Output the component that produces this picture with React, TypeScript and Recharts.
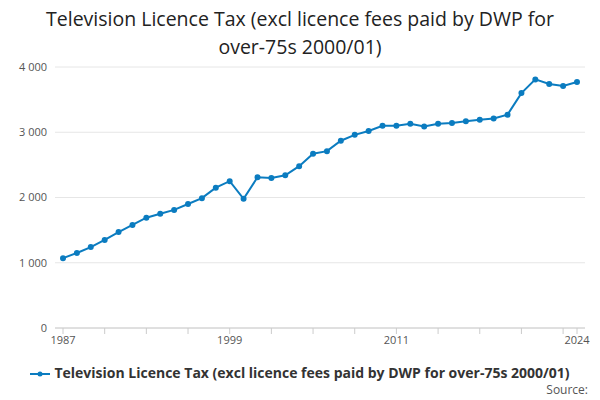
import React from 'react';
import { LineChart, Line, XAxis, YAxis, CartesianGrid } from 'recharts';

const years = Array.from({ length: 38 }, (_, i) => 1987 + i);
const values = [
  1070, 1150, 1240, 1350, 1470, 1580, 1690, 1750, 1810, 1900,
  1990, 2150, 2250, 1980, 2310, 2300, 2340, 2480, 2670, 2710,
  2870, 2960, 3020, 3100, 3100, 3130, 3090, 3130, 3140, 3170,
  3190, 3210, 3270, 3600, 3810, 3740, 3710, 3770,
];
const xTicks = [1987, 1990, 1993, 1996, 1999, 2002, 2005, 2008, 2011, 2014, 2017, 2020, 2023, 2024];
const xLabels = [1987, 1999, 2011, 2024];
const yTicks = [0, 1000, 2000, 3000, 4000];
const seriesName = 'Television Licence Tax (excl licence fees paid by DWP for over-75s 2000/01)';

const data = years.map((y, i) => ({ year: y, value: values[i] }));
const font = '"Open Sans", sans-serif';
const color = '#0b7cc0';

export default function App() {
  return (
    <div style={{ position: 'absolute', left: 0, top: 0, width: 600, height: 400, fontFamily: font, background: '#fff' }}>
      <div style={{ position: 'absolute', top: 5, left: 0, width: 600, textAlign: 'center', fontSize: 19.5, lineHeight: '28px', color: '#222' }}>
        Television Licence Tax (excl licence fees paid by DWP for<br />over-75s 2000/01)
      </div>
      <LineChart width={600} height={400} data={data} margin={{ top: 67, right: 15, left: 10, bottom: 42 }}>
        <CartesianGrid vertical={false} stroke="#e6e6e6" />
        <XAxis
          dataKey="year"
          type="number"
          domain={[1987, 2024]}
          ticks={xTicks}
          interval={0}
          tickFormatter={(v) => (xLabels.includes(v) ? String(v) : '')}
          padding={{ left: 8, right: 8 }}
          height={30}
          stroke="#ccc"
          tick={{ fontSize: 11, fill: '#555' }}
          tickSize={6}
        />
        <YAxis
          domain={[0, 4000]}
          ticks={yTicks}
          width={45}
          axisLine={false}
          tickLine={false}
          tickFormatter={(v) => String(v).replace(/(\d)(\d{3})$/, '$1 $2')}
          tick={{ fontSize: 11, fill: '#555' }}
        />
        <Line dataKey="value" stroke={color} strokeWidth={2} dot={{ r: 2, fill: color, stroke: color }} isAnimationActive={false} />
      </LineChart>
      <div style={{ position: 'absolute', top: 363, left: 0, width: 600, textAlign: 'center', fontSize: 14, fontWeight: 'bold', color: '#333' }}>
        <svg width="20" height="8" style={{ marginRight: 4 }}>
          <line x1="0" y1="4" x2="20" y2="4" stroke={color} strokeWidth="2" />
          <circle cx="10" cy="4" r="2.5" fill={color} />
        </svg>
        {seriesName}
      </div>
      <div style={{ position: 'absolute', top: 381, right: 12, fontSize: 12, color: '#555' }}>Source:</div>
    </div>
  );
}
